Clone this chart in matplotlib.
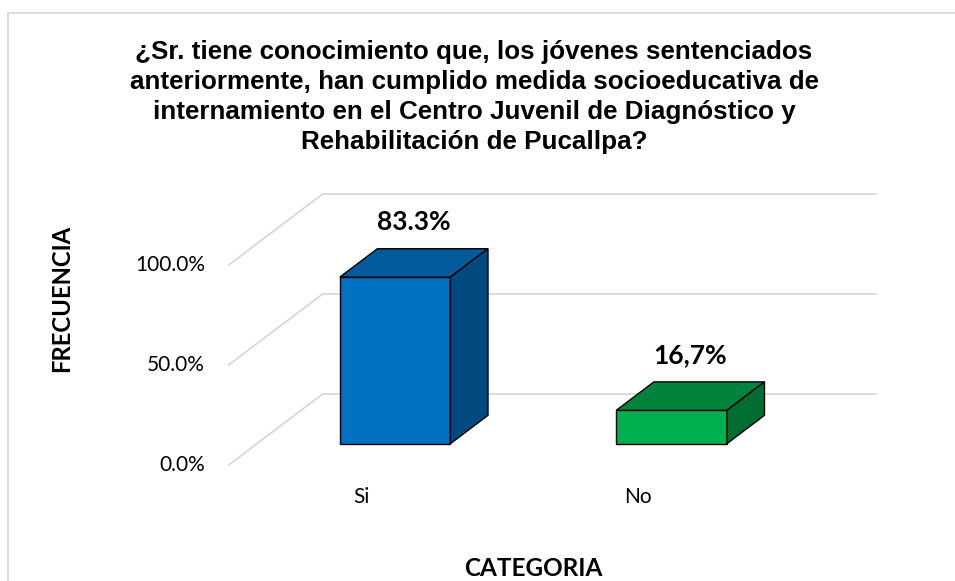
import matplotlib
matplotlib.use('Agg')
import matplotlib.pyplot as plt
from matplotlib.patches import Polygon
from matplotlib.lines import Line2D

# datos
categorias = ['Si', 'No']
valores = [0.833, 0.167]
etiquetas = ['83.3%', '16,7%']
ticks = [0.0, 0.5, 1.0]
tick_labels = ['0.0%', '50.0%', '100.0%']

titulo = ('¿Sr. tiene conocimiento que, los jóvenes sentenciados\n'
          'anteriormente, han cumplido medida socioeducativa de\n'
          'internamiento en el Centro Juvenil de Diagnóstico y\n'
          'Rehabilitación de Pucallpa?')

colores = [('#0070C0', '#005A9C', '#004A80'),   # frente, arriba, lado
           ('#00B050', '#00843C', '#006E30')]

W, H = 955, 581
fig = plt.figure(figsize=(W / 100, H / 100), dpi=100)
ax = fig.add_axes([0, 0, 1, 1])
ax.set_xlim(-1.327, 2.127)
ax.set_ylim(-0.58, 2.325)
ax.axis('off')

# desplazamiento de profundidad (falso 3D)
DX, DY = 0.34, 0.355
x_izq, x_der = -0.5, 1.5
ancho = 0.4
z0, z1 = 0.3, 0.7

grid_c = '#D9D9D9'
for t, lab in zip(ticks, tick_labels):
    ax.plot([x_izq, x_izq + DX, x_der + DX], [t, t + DY, t + DY],
            color=grid_c, lw=1.3, zorder=1, solid_joinstyle='round')
    ax.text(x_izq - 0.085, t, lab, ha='right', va='center',
            fontsize=15, family='Lato', color='#000000')

for i, (v, lab, (cf, ct, cs)) in enumerate(zip(valores, etiquetas, colores)):
    xl, xr = i - ancho / 2, i + ancho / 2
    fx, fy = z0 * DX, z0 * DY
    bx, by = z1 * DX, z1 * DY
    frente = [(xl + fx, fy), (xr + fx, fy), (xr + fx, v + fy), (xl + fx, v + fy)]
    arriba = [(xl + fx, v + fy), (xr + fx, v + fy), (xr + bx, v + by), (xl + bx, v + by)]
    lado = [(xr + fx, fy), (xr + bx, by), (xr + bx, v + by), (xr + fx, v + fy)]
    for pts, c in ((frente, cf), (arriba, ct), (lado, cs)):
        ax.add_patch(Polygon(pts, closed=True, facecolor=c, edgecolor='black',
                             lw=1.0, joinstyle='miter', zorder=3))
    zm = (z0 + z1) / 2
    ax.text(i + zm * DX, v + zm * DY + 0.205, lab, ha='center', va='center',
            fontsize=19, fontweight='bold', family='Lato')
    ax.text(i - 0.02, -0.16, categorias[i], ha='center', va='center',
            fontsize=15, family='Lato')

# titulos
fig.text(474 / W, 1 - 97 / H, titulo, ha='center', va='center',
         fontsize=18.7, fontweight='bold', family='Liberation Sans',
         linespacing=1.3)
fig.text(62 / W, 1 - 298 / H, 'FRECUENCIA', rotation=90, ha='center',
         va='center', fontsize=17.2, fontweight='bold', family='Lato')
fig.text(533 / W, 1 - 568 / H, 'CATEGORIA', ha='center', va='center',
         fontsize=17.5, fontweight='bold', family='Lato')

# borde del grafico
bx0, by0 = 8 / W, 1 - 13 / H
fig.add_artist(Line2D([bx0, 1.0], [by0, by0], color=grid_c, lw=1.3,
                      transform=fig.transFigure))
fig.add_artist(Line2D([bx0, bx0], [0.0, by0], color=grid_c, lw=1.3,
                      transform=fig.transFigure))

fig.savefig('out.png', dpi=100, facecolor='white')
